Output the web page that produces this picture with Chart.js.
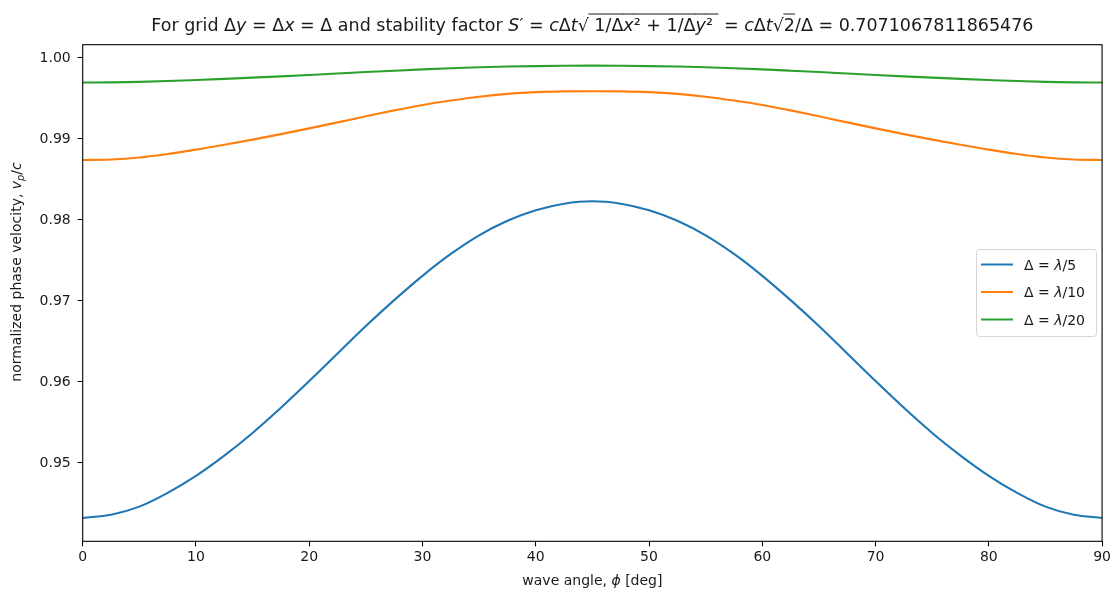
<!DOCTYPE html>
<html>
<head>
<meta charset="utf-8">
<script src="https://cdn.jsdelivr.net/npm/chart.js@4/dist/chart.umd.min.js"></script>
<style>
  html, body { margin: 0; padding: 0; background: #fff; }
  canvas { display: block; }
</style>
</head>
<body>
<canvas id="chart" width="1114" height="592"></canvas>
<script>
// wave angle phi in degrees
const angles = [0, 2.5, 5, 7.5, 10, 12.5, 15, 17.5, 20, 22.5, 25, 27.5, 30, 32.5, 35, 37.5, 40, 42.5, 45,
                47.5, 50, 52.5, 55, 57.5, 60, 62.5, 65, 67.5, 70, 72.5, 75, 77.5, 80, 82.5, 85, 87.5, 90];
// normalized phase velocity vp/c
const lambda5 = [0.9432, 0.9436, 0.9446, 0.9463, 0.9484, 0.9509, 0.9537, 0.9568, 0.9601, 0.9635,
                 0.9669, 0.9701, 0.9731, 0.9758, 0.9781, 0.9799, 0.9812, 0.9820, 0.9823,
                 0.9820, 0.9812, 0.9799, 0.9781, 0.9758, 0.9731, 0.9701, 0.9669, 0.9635,
                 0.9601, 0.9568, 0.9537, 0.9509, 0.9484, 0.9463, 0.9446, 0.9436, 0.9432];
const lambda10 = [0.98740, 0.98746, 0.98772, 0.98815, 0.98868, 0.98928, 0.98992, 0.99060, 0.99131, 0.99205,
                  0.99280, 0.99353, 0.99420, 0.99475, 0.99522, 0.99557, 0.99578, 0.99588, 0.99590,
                  0.99588, 0.99578, 0.99557, 0.99522, 0.99475, 0.99420, 0.99353, 0.99280, 0.99205,
                  0.99131, 0.99060, 0.98992, 0.98928, 0.98868, 0.98815, 0.98772, 0.98746, 0.98740];
const lambda20 = [0.99697, 0.99699, 0.99705, 0.99715, 0.99728, 0.99742, 0.99757, 0.99773, 0.99790, 0.99808,
                  0.99826, 0.99843, 0.99859, 0.99873, 0.99885, 0.99894, 0.99900, 0.99904, 0.99906,
                  0.99904, 0.99900, 0.99894, 0.99885, 0.99873, 0.99859, 0.99843, 0.99826, 0.99808,
                  0.99790, 0.99773, 0.99757, 0.99742, 0.99728, 0.99715, 0.99705, 0.99699, 0.99697];
const seriesNames = ["λ/5", "λ/10", "λ/20"];
const seriesColors = ["#1f77b4", "#ff7f0e", "#2ca02c"];
const xTicks = [0, 10, 20, 30, 40, 50, 60, 70, 80, 90];
const yTicks = [0.95, 0.96, 0.97, 0.98, 0.99, 1.00];

const FONT = "'DejaVu Sans', sans-serif";
const TXT = "#1a1a1a";

// draw a run of [text, style, overline] pieces; style: n normal, i italic, sub subscript
function setFont(ctx, style, size) {
    const sub = style === "sub";
    ctx.font = (style === "i" || sub ? "italic " : "") + (sub ? size * 0.7 : size) + "px " + FONT;
}
function richWidth(ctx, segs, size) {
    let w = 0;
    segs.forEach(s => {
        setFont(ctx, s[1], size);
        w += ctx.measureText(s[0]).width;
    });
    return w;
}
function drawRich(ctx, segs, x, y, size) {
    ctx.textBaseline = "alphabetic";
    ctx.textAlign = "left";
    segs.forEach(s => {
        setFont(ctx, s[1], size);
        const w = ctx.measureText(s[0]).width;
        ctx.fillText(s[0], x, s[1] === "sub" ? y + size * 0.2 : y);
        if (s[2]) {
            ctx.save();
            ctx.strokeStyle = ctx.fillStyle;
            ctx.lineWidth = 1;
            ctx.beginPath();
            ctx.moveTo(x - 0.5, y - size * 0.97);
            ctx.lineTo(x + w, y - size * 0.97);
            ctx.stroke();
            ctx.restore();
        }
        x += w;
    });
}

const titleSegs = [
    ["For grid Δ", "n"], ["y", "i"], [" = Δ", "n"], ["x", "i"], [" = Δ and stability factor ", "n"],
    ["S", "i"], ["′ = ", "n"], ["c", "i"], ["Δ", "n"], ["t", "i"], ["√", "n"],
    [" 1/Δ", "n", 1], ["x", "i", 1], ["² + 1/Δ", "n", 1], ["y", "i", 1], ["² ", "n", 1],
    [" = ", "n"], ["c", "i"], ["Δ", "n"], ["t", "i"], ["√", "n"], ["2", "n", 1],
    ["/Δ = 0.7071067811865476", "n"]
];
const yTitleSegs = [["normalized phase velocity, ", "n"], ["v", "i"], ["p", "sub"], ["/", "n"], ["c", "i"]];
const xTitleSegs = [["wave angle, ", "n"], ["ϕ", "i"], [" [deg]", "n"]];

const decorations = {
    id: "decorations",
    afterDraw(chart) {
        const ctx = chart.ctx;
        const a = chart.chartArea;
        ctx.save();
        ctx.fillStyle = TXT;

        // frame around the axes
        ctx.strokeStyle = "#000";
        ctx.lineWidth = 1.1;
        ctx.strokeRect(a.left, a.top, a.right - a.left, a.bottom - a.top);

        // title
        let w = richWidth(ctx, titleSegs, 17.5);
        drawRich(ctx, titleSegs, (a.left + a.right) / 2 - w / 2, 31, 17.5);

        // x axis title
        w = richWidth(ctx, xTitleSegs, 14);
        drawRich(ctx, xTitleSegs, (a.left + a.right) / 2 - w / 2, 585, 14);

        // y axis title
        ctx.save();
        ctx.translate(21, 272);
        ctx.rotate(-Math.PI / 2);
        w = richWidth(ctx, yTitleSegs, 14);
        drawRich(ctx, yTitleSegs, -w / 2, 0, 14);
        ctx.restore();

        // legend
        const lx = 976, ly = 249, lw = 120, lh = 87;
        ctx.beginPath();
        ctx.roundRect(lx + 0.5, ly + 0.5, lw, lh, 3);
        ctx.fillStyle = "rgba(255,255,255,0.8)";
        ctx.fill();
        ctx.strokeStyle = "#d6d6d6";
        ctx.lineWidth = 1;
        ctx.stroke();
        chart.data.datasets.forEach((ds, i) => {
            const yy = 264.5 + i * 27.5;
            ctx.strokeStyle = ds.borderColor;
            ctx.lineWidth = 2;
            ctx.beginPath();
            ctx.moveTo(981, yy);
            ctx.lineTo(1013, yy);
            ctx.stroke();
            ctx.fillStyle = TXT;
            const parts = ds.label.split("λ");
            drawRich(ctx, [["Δ = ", "n"], ["λ", "i"], [parts[1], "n"]], 1024, yy + 5, 14);
        });
        ctx.restore();
    }
};

const values = [lambda5, lambda10, lambda20];
const datasets = values.map((vals, i) => ({
    label: "Δ = " + seriesNames[i],
    data: angles.map((a, j) => ({ x: a, y: vals[j] })),
    borderColor: seriesColors[i],
    borderWidth: 2.1,
    pointRadius: 0,
    fill: false,
    cubicInterpolationMode: "monotone"
}));

new Chart(document.getElementById("chart"), {
    type: "line",
    data: { datasets },
    plugins: [decorations],
    options: {
        responsive: false,
        animation: false,
        devicePixelRatio: 1,
        layout: { padding: { top: 44.7, right: 10.7, left: 0, bottom: 0 } },
        plugins: {
            legend: { display: false },
            title: { display: false },
            tooltip: { enabled: false }
        },
        scales: {
            x: {
                type: "linear",
                min: 0,
                max: 90,
                afterBuildTicks: s => { s.ticks = xTicks.map(v => ({ value: v })); },
                afterFit: s => { s.height = 50.7; },
                ticks: { color: TXT, font: { family: FONT, size: 14 }, padding: 3, maxRotation: 0,
                         callback: v => String(v) },
                grid: { drawOnChartArea: false, tickLength: 5, tickColor: "#000", tickWidth: 1.1 },
                border: { display: false }
            },
            y: {
                type: "linear",
                min: 0.94032,
                max: 1.00164,
                afterBuildTicks: s => { s.ticks = yTicks.map(v => ({ value: v })); },
                afterFit: s => { s.width = 82.7; },
                ticks: { color: TXT, font: { family: FONT, size: 14 }, padding: 7,
                         callback: v => v.toFixed(2) },
                grid: { drawOnChartArea: false, tickLength: 5, tickColor: "#000", tickWidth: 1.1 },
                border: { display: false }
            }
        }
    }
});
</script>
</body>
</html>
